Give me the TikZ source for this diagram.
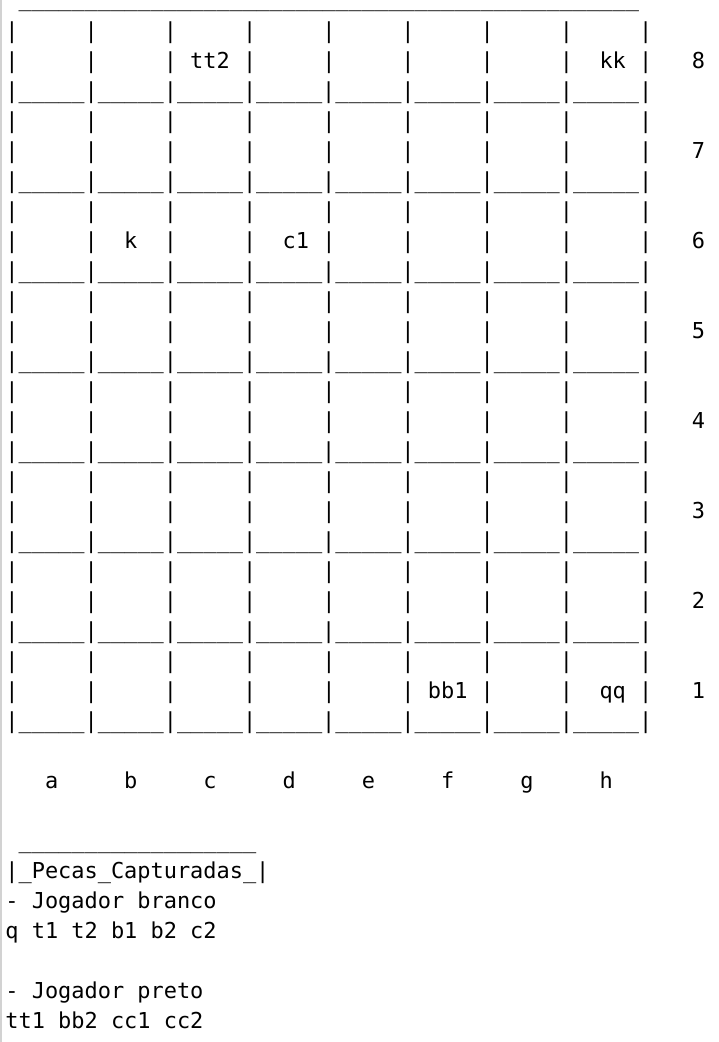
\documentclass[tikz,border=0pt]{standalone}
\usepackage{fontspec}
\newfontfamily\dvm{DejaVu Sans Mono}
\newcommand\cellE{~~~~~|}
\newcommand\cellU{\_\_\_\_\_|}
\newcommand\eightE{\cellE\cellE\cellE\cellE\cellE\cellE\cellE\cellE}
\newcommand\eightU{\cellU\cellU\cellU\cellU\cellU\cellU\cellU\cellU}
\newcommand\fiveUs{\_\_\_\_\_}
\begin{document}
\begin{tikzpicture}[x=1pt,y=1pt,
  ln/.style={anchor=base west, inner sep=0pt, outer sep=0pt,
    font=\dvm\fontsize{21.93pt}{30pt}\selectfont, text=black}]
\useasboundingbox (0,0) rectangle (718,-1042);
\fill[white] (0,0) rectangle (718,-1042);
\fill[gray!35] (0,0) rectangle (2.3,-1042);
\def\X{5.4}
% top border
\node[ln] (l0) at (\X,-6) {~\fiveUs\fiveUs\fiveUs\fiveUs\fiveUs\fiveUs\fiveUs\fiveUs\fiveUs\_\_};
% row 8
\node[ln] (l1) at (\X,-38) {|\eightE};
\node[ln] (l2) at (\X,-68) {|\cellE\cellE~tt2~|\cellE\cellE\cellE\cellE~~kk~|~~~8};
\node[ln] (l3) at (\X,-98) {|\eightU};
% row 7
\node[ln] (l4) at (\X,-128) {|\eightE};
\node[ln] (l5) at (\X,-158) {|\eightE~~~7};
\node[ln] (l6) at (\X,-188) {|\eightU};
% row 6
\node[ln] (l7) at (\X,-218) {|\eightE};
\node[ln] (l8) at (\X,-248) {|\cellE~~k~~|\cellE~~c1~|\cellE\cellE\cellE\cellE~~~6};
\node[ln] (l9) at (\X,-278) {|\eightU};
% row 5
\node[ln] (l10) at (\X,-308) {|\eightE};
\node[ln] (l11) at (\X,-338) {|\eightE~~~5};
\node[ln] (l12) at (\X,-368) {|\eightU};
% row 4
\node[ln] (l13) at (\X,-398) {|\eightE};
\node[ln] (l14) at (\X,-428) {|\eightE~~~4};
\node[ln] (l15) at (\X,-458) {|\eightU};
% row 3
\node[ln] (l16) at (\X,-488) {|\eightE};
\node[ln] (l17) at (\X,-518) {|\eightE~~~3};
\node[ln] (l18) at (\X,-548) {|\eightU};
% row 2
\node[ln] (l19) at (\X,-578) {|\eightE};
\node[ln] (l20) at (\X,-608) {|\eightE~~~2};
\node[ln] (l21) at (\X,-638) {|\eightU};
% row 1
\node[ln] (l22) at (\X,-668) {|\eightE};
\node[ln] (l23) at (\X,-698) {|\cellE\cellE\cellE\cellE\cellE~bb1~|\cellE~~qq~|~~~1};
\node[ln] (l24) at (\X,-728) {|\eightU};
% column labels
\node[ln] (l26) at (\X,-788) {~~~a~~~~~b~~~~~c~~~~~d~~~~~e~~~~~f~~~~~g~~~~~h};
% captured pieces
\node[ln] (l28) at (\X,-848) {~\fiveUs\fiveUs\fiveUs\_\_\_};
\node[ln] (l29) at (\X,-878) {|\_Pecas\_Capturadas\_|};
\node[ln] (l30) at (\X,-908) {-~Jogador~branco};
\node[ln] (l31) at (\X,-938) {q~t1~t2~b1~b2~c2};
\node[ln] (l33) at (\X,-998) {-~Jogador~preto};
\node[ln] (l34) at (\X,-1028) {tt1~bb2~cc1~cc2};
\end{tikzpicture}
\end{document}
